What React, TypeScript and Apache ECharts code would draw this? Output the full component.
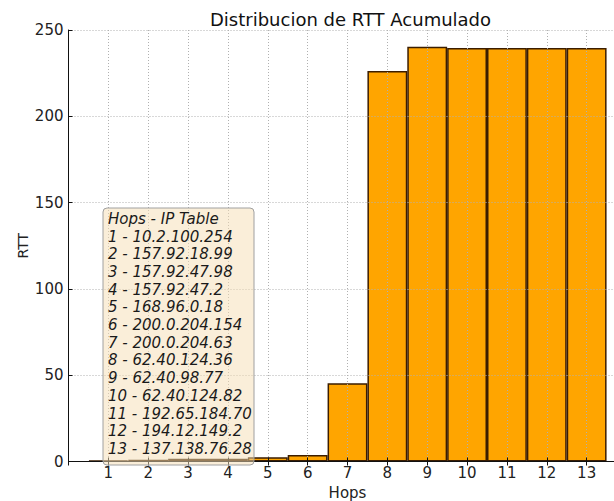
import React, { useEffect, useRef } from "react";
import * as echarts from "echarts";

const hops = [1, 2, 3, 4, 5, 6, 7, 8, 9, 10, 11, 12, 13];
const rtt = [0.6, 1.0, 1.6, 1.6, 2.5, 3.8, 45.3, 226.2, 240.3, 239.6, 239.6, 239.6, 239.6];
const legendTitle = "Hops - IP Table";
const ipTable = [
  "10.2.100.254",
  "157.92.18.99",
  "157.92.47.98",
  "157.92.47.2",
  "168.96.0.18",
  "200.0.204.154",
  "200.0.204.63",
  "62.40.124.36",
  "62.40.98.77",
  "62.40.124.82",
  "192.65.184.70",
  "194.12.149.2",
  "137.138.76.28",
];

const FONT = "DejaVu Sans";

export default function App() {
  const ref = useRef<HTMLDivElement>(null);
  useEffect(() => {
    if (!ref.current) return;
    const chart = echarts.init(ref.current, undefined, { renderer: "svg" });
    const gridLeft = 68.5;
    const gridTop = 30;
    const gridW = 558;
    const gridH = 431.5;
    const legendLines = [legendTitle, ...ipTable.map((ip, i) => `${hops[i]} - ${ip}`)];
    chart.setOption({
      animation: false,
      title: {
        text: "Distribucion de RTT Acumulado",
        left: gridLeft + gridW / 2 - 2,
        textAlign: "center",
        top: 5,
        textStyle: { fontFamily: FONT, fontSize: 18, fontWeight: "normal", color: "#111" },
      },
      grid: {
        left: gridLeft,
        top: gridTop,
        width: gridW,
        height: gridH,
        containLabel: false,
        outerBoundsMode: "none",
      },
      xAxis: [
        {
          type: "value",
          min: 0,
          max: 14,
          interval: 1,
          z: 10,
          name: "Hops",
          nameLocation: "middle",
          nameGap: 24,
          nameMoveOverlap: false,
          nameTextStyle: { fontFamily: FONT, fontSize: 15, color: "#222" },
          axisLine: { show: true, onZero: false, lineStyle: { color: "#111", width: 1 } },
          axisTick: { show: true, inside: true, length: 4, lineStyle: { color: "#111" } },
          axisLabel: {
            fontFamily: FONT,
            fontSize: 15,
            color: "#222",
            margin: 4,
            formatter: (v: number) => (v >= 1 && v <= 13 ? String(v) : ""),
          },
          splitLine: { show: true, lineStyle: { color: "#b0b0b0", type: [1, 2], width: 1 } },
        },
        {
          type: "value",
          position: "top",
          min: 0,
          max: 14,
          interval: 1,
          z: 10,
          axisLine: { show: true, lineStyle: { color: "#111", width: 1 } },
          axisTick: { show: true, inside: true, length: 4, lineStyle: { color: "#111" } },
          axisLabel: { show: false },
          splitLine: { show: false },
        },
      ],
      yAxis: {
        type: "value",
        min: 0,
        max: 250,
        interval: 50,
        z: 10,
        name: "RTT",
        nameLocation: "middle",
        nameGap: 39,
        nameMoveOverlap: false,
        nameRotate: 90,
        nameTextStyle: { fontFamily: FONT, fontSize: 14, color: "#222" },
        axisLine: { show: true, lineStyle: { color: "#111", width: 1 } },
        axisTick: { show: true, inside: true, length: 4, lineStyle: { color: "#111" } },
        axisLabel: { fontFamily: FONT, fontSize: 15, color: "#222", margin: 5 },
        splitLine: { show: true, lineStyle: { color: "#b0b0b0", type: [1, 2], width: 1 } },
      },
      series: [
        {
          type: "bar",
          xAxisIndex: 0,
          data: hops.map((h, i) => [h, rtt[i]]),
          barWidth: gridW / 14,
          itemStyle: { color: "#ffa500", borderColor: "#3b1d00", borderWidth: 1.5 },
          z: 2,
        },
      ],
      graphic: [
        {
          type: "rect",
          z: 100,
          shape: { x: 103, y: 208, width: 151, height: 257, r: 4 },
          style: { fill: "rgba(245,222,179,0.5)", stroke: "#a0a0a0", lineWidth: 1 },
        },
        {
          type: "text",
          z: 101,
          left: 108,
          top: 210,
          style: {
            text: legendLines.join("\n"),
            fontFamily: FONT,
            fontStyle: "italic",
            fontSize: 15,
            lineHeight: 17.7,
            fill: "#1a1a1a",
          },
        },
      ],
    });
    return () => chart.dispose();
  }, []);
  return (
    <div
      ref={ref}
      style={{ position: "fixed", left: 0, top: 0, width: 660, height: 501, background: "#fff" }}
    />
  );
}
